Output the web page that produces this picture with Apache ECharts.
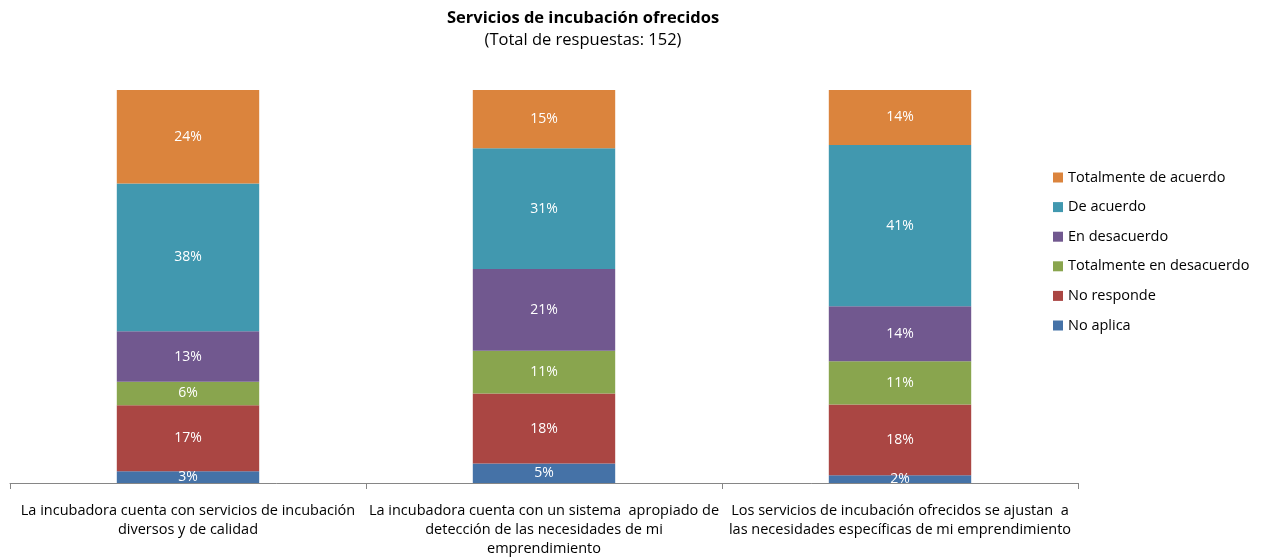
<!DOCTYPE html>
<html>
<head>
<meta charset="utf-8">
<script src="https://cdn.jsdelivr.net/npm/echarts@6/dist/echarts.min.js"></script>
<style>
  html, body { margin: 0; padding: 0; background: #fff; }
  #chart { width: 1261px; height: 558px; }
</style>
</head>
<body>
<div id="chart"></div>
<script>
const categories = [
  "La incubadora cuenta con servicios de incubación\ndiversos y de calidad",
  "La incubadora cuenta con un sistema  apropiado de\ndetección de las necesidades de mi\nemprendimiento",
  "Los servicios de incubación ofrecidos se ajustan  a\nlas necesidades específicas de mi emprendimiento"
];

// percentages as labelled in the chart, bottom segment first
const noAplica = [3, 5, 2];
const noResponde = [17, 18, 18];
const totalDesacuerdo = [6, 11, 11];
const enDesacuerdo = [13, 21, 14];
const deAcuerdo = [38, 31, 41];
const totalAcuerdo = [24, 15, 14];

const seriesNames = [
  "No aplica",
  "No responde",
  "Totalmente en desacuerdo",
  "En desacuerdo",
  "De acuerdo",
  "Totalmente de acuerdo"
];
const seriesValues = [noAplica, noResponde, totalDesacuerdo, enDesacuerdo, deAcuerdo, totalAcuerdo];
const colors = ["#4572A7", "#AA4643", "#89A54E", "#71588F", "#4198AF", "#DB843D"];

// 100% stacked: scale each column to its total
const totals = categories.map((c, i) => seriesValues.reduce((s, arr) => s + arr[i], 0));

const font = "'Open Sans', 'Noto Sans', sans-serif";

const chart = echarts.init(document.getElementById("chart"));

const option = {
  animation: false,
  title: {
    text: "Servicios de incubación ofrecidos",
    subtext: "(Total de respuestas: 152)",
    left: 578,
    top: 5,
    textAlign: "center",
    itemGap: 5,
    textStyle: { fontFamily: font, fontSize: 16.5, fontWeight: "bold", color: "#000" },
    subtextStyle: { fontFamily: font, fontSize: 16.5, color: "#000" }
  },
  legend: {
    orient: "vertical",
    left: 1048,
    top: 165,
    itemWidth: 10,
    itemHeight: 10,
    itemGap: 14.6,
    icon: "rect",
    data: seriesNames.slice().reverse(),
    textStyle: { fontFamily: font, fontSize: 14.5, color: "#000" }
  },
  grid: {
    left: 10,
    right: 183,
    top: 90,
    bottom: 73,
    containLabel: false
  },
  xAxis: {
    type: "category",
    data: categories,
    axisLine: { lineStyle: { color: "#868686", width: 1 } },
    axisTick: { show: true, length: 6, lineStyle: { color: "#868686" } },
    axisLabel: {
      interval: 0,
      margin: 18,
      lineHeight: 19,
      fontFamily: font,
      fontSize: 14.5,
      color: "#000"
    }
  },
  yAxis: {
    type: "value",
    min: 0,
    max: 100,
    show: false,
    splitLine: { show: false }
  },
  series: seriesNames.map((name, k) => ({
    name: name,
    type: "bar",
    stack: "total",
    barWidth: "40%",
    itemStyle: { color: colors[k] },
    label: {
      show: true,
      position: "inside",
      fontFamily: font,
      fontSize: 14,
      color: "#fff",
      formatter: (p) => seriesValues[k][p.dataIndex] + "%"
    },
    data: seriesValues[k].map((v, i) => v / totals[i] * 100)
  }))
};

chart.setOption(option);
</script>
</body>
</html>
